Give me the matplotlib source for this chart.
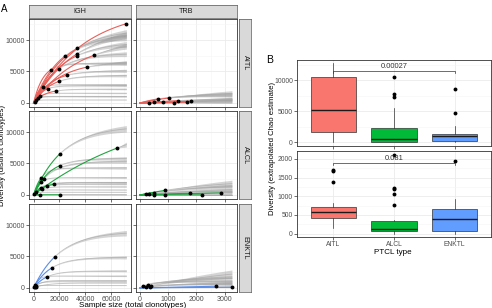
import numpy as np
import matplotlib.pyplot as plt
from matplotlib.ticker import MultipleLocator

plt.rcParams['font.family'] = ['Liberation Sans', 'DejaVu Sans']

W, H = 492, 308

# ---- A: per sample: total clonotypes sampled, distinct clonotypes seen,
# ---- and the extrapolated diversity where its curve reaches the panel edge
igh_aitl_n = [72000, 34000, 33600, 24000, 47000, 33600, 41500, 19500, 13600, 26000, 20000, 7500, 10800, 17400, 4600, 3000, 1500, 800]
igh_aitl_s = [12600, 8700, 7800, 7400, 7600, 7500, 5700, 5400, 5300, 4400, 3450, 2500, 2250, 1900, 1100, 800, 400, 150]
igh_aitl_end = [12600, 11100, 10750, 10400, 9000, 9300, 6400, 7750, 6300, 5100, 4350, 2900, 2750, 2200, 1550, 1050, 1000, 480]

igh_alcl_n = [64900, 20200, 20200, 15600, 10000, 6700, 5400, 7900, 5400, 6000, 20200, 4800, 500, 1500]
igh_alcl_s = [7460, 6500, 4650, 1700, 1380, 950, 1160, 2540, 2000, 2750, 30, 30, 100, 400]
igh_alcl_end = [8000, 10500, 5800, 1950, 1700, 1300, 2000, 5300, 2750, 4300, 30, 30, 430, 800]

igh_enktl_n = [16400, 14400, 10500, 1500, 1000, 800, 2000, 500]
igh_enktl_s = [4950, 3230, 1770, 300, 500, 200, 150, 100]
igh_enktl_end = [8700, 4850, 2700, 1200, 1900, 1000, 800, 400]

trb_aitl_n = [1040, 630, 480, 1330, 1220, 1650, 1800, 320, 800]
trb_aitl_s = [800, 640, 110, 370, 20, 110, 270, 50, 200]
trb_aitl_end = [1500, 1300, 200, 700, 20, 250, 550, 450, 600]

trb_alcl_n = [900, 900, 480, 1770, 2190, 2890, 200, 300, 490]
trb_alcl_s = [740, 20, 370, 270, 20, 320, 100, 150, 20]
trb_alcl_end = [1800, 20, 1300, 450, 20, 350, 800, 600, 20]

trb_enktl_n = [3260, 2680, 400, 280, 100, 200, 350]
trb_enktl_s = [100, 270, 370, 430, 270, 150, 200]
trb_enktl_end = [100, 320, 2200, 1500, 1000, 600, 800]

curves = {
    ('IGH', 'AITL'): (igh_aitl_n, igh_aitl_s, igh_aitl_end),
    ('IGH', 'ALCL'): (igh_alcl_n, igh_alcl_s, igh_alcl_end),
    ('IGH', 'ENKTL'): (igh_enktl_n, igh_enktl_s, igh_enktl_end),
    ('TRB', 'AITL'): (trb_aitl_n, trb_aitl_s, trb_aitl_end),
    ('TRB', 'ALCL'): (trb_alcl_n, trb_alcl_s, trb_alcl_end),
    ('TRB', 'ENKTL'): (trb_enktl_n, trb_enktl_s, trb_enktl_end),
}

# ---- B: box stats (whisker low, q1, median, q3, whisker high) and outliers
ptcl = ['AITL', 'ALCL', 'ENKTL']
igh_box = [[0, 1600, 5100, 10500, 12700], [0, 30, 500, 2300, 5500], [0, 150, 920, 1300, 2550]]
igh_out = [[], [7300, 7800, 10500], [4600, 8500]]
trb_box = [[160, 420, 580, 720, 830], [0, 60, 120, 330, 370], [0, 80, 390, 650, 920]]
trb_out = [[1390, 1680, 1710], [760, 1050, 1200, 1230, 2110], [1940]]
pvals = ['0.00027', '0.081']

genes = ['IGH', 'TRB']
x_end = {'IGH': 72000, 'TRB': 3260}
band = {'IGH': 0.05, 'TRB': 0.3}
col = {'AITL': '#F8766D', 'ALCL': '#00BA38', 'ENKTL': '#619CFF'}
line_col = {'AITL': '#E8605A', 'ALCL': '#1FA53F', 'ENKTL': '#5A8EE8'}


def rect(x0, y0, x1, y1):
    return [x0 / W, 1 - y1 / H, (x1 - x0) / W, (y1 - y0) / H]


def shape(n, s, e, xe):
    # saturation scale of s*(1-exp(-x/c)) through (n, s) and (xe, e)
    if n >= xe:
        return 0.55 * n
    if e <= s * 1.001:
        return n / 4
    t = e / s
    if t >= 0.999 * xe / n:
        return None
    lo, hi = np.log(n * 1e-3), np.log(n * 1e3)
    for _ in range(80):
        mid = (lo + hi) / 2
        c = np.exp(mid)
        r = (1 - np.exp(-xe / c)) / (1 - np.exp(-n / c))
        if r > t:
            hi = mid
        else:
            lo = mid
    return np.exp((lo + hi) / 2)


def rare(x, n, s, c):
    if s <= 0:
        return np.zeros_like(x)
    if c is None:
        return s * x / n
    return s * (1 - np.exp(-x / c)) / (1 - np.exp(-n / c))


def style(ax, small=5.0):
    ax.set_facecolor('white')
    for sp in ax.spines.values():
        sp.set_color('#333333')
        sp.set_linewidth(0.6)
    ax.grid(True, which='major', color='#EBEBEB', lw=0.6)
    ax.grid(True, which='minor', color='#F5F5F5', lw=0.4)
    ax.set_axisbelow(True)
    ax.tick_params(which='major', length=2, width=0.5, color='#333333',
                   labelsize=small, labelcolor='#4D4D4D', pad=1)
    ax.tick_params(which='minor', length=0)


def strip(box, text, rot):
    sa = fig.add_axes(rect(*box))
    sa.set_facecolor('#D9D9D9')
    sa.set_xticks([])
    sa.set_yticks([])
    for sp in sa.spines.values():
        sp.set_color('#555555')
        sp.set_linewidth(0.5)
    sa.text(0.5, 0.5, text, rotation=rot, ha='center', va='center',
            fontsize=5.2, color='#1A1A1A', transform=sa.transAxes)


fig = plt.figure(figsize=(W / 100, H / 100), dpi=100)

cols_px = {'IGH': (29, 131), 'TRB': (135.5, 236.5)}
rows_px = [(19, 107), (111, 199), (204, 292)]

for j, g in enumerate(genes):
    x0, x1 = cols_px[g]
    strip((x0, 5, x1, 18), g, 0)
    for i, t in enumerate(ptcl):
        y0, y1 = rows_px[i]
        ax = fig.add_axes(rect(x0, y0, x1, y1))
        style(ax)
        xe = x_end[g]
        ns, ss, es = curves[(g, t)]
        for n, s, e in zip(ns, ss, es):
            c = shape(n, s, e, xe)
            if n < xe:
                xx = np.linspace(n, xe, 80)
                yy = rare(xx, n, s, c)
                w = band[g] * max(e, 250) * (xx - n) / (xe - n)
                ax.fill_between(xx, yy - w, yy + w, color='#7A7A7A', alpha=0.32, lw=0)
                ax.plot(xx, yy, color='#A8A8A8', lw=0.6, alpha=0.7)
        for n, s, e in zip(ns, ss, es):
            c = shape(n, s, e, xe)
            xi = np.linspace(0, n, 60)
            ax.plot(xi, rare(xi, n, s, c), color=line_col[t], lw=0.8)
        ax.plot(ns, ss, 'o', color='black', ms=2.8, mec='none')
        ax.set_xlim(-0.05 * xe, 1.05 * xe)
        ax.set_ylim(-640, 13340)
        ax.yaxis.set_major_locator(MultipleLocator(5000))
        ax.yaxis.set_minor_locator(MultipleLocator(2500))
        if g == 'IGH':
            ax.xaxis.set_major_locator(MultipleLocator(20000))
            ax.xaxis.set_minor_locator(MultipleLocator(10000))
        else:
            ax.xaxis.set_major_locator(MultipleLocator(1000))
            ax.xaxis.set_minor_locator(MultipleLocator(500))
        if i < 2:
            ax.tick_params(labelbottom=False)
        if j == 1:
            ax.tick_params(labelleft=False)
            strip((239, y0, 251, y1), t, -90)

fig.text(3 / W, 1 - 155 / H, 'Diversity (distinct clonotypes)', rotation=90,
         ha='center', va='center', fontsize=5.6)
fig.text(133 / W, 1 - 302 / H, 'Sample size (total clonotypes)',
         ha='center', va='top', fontsize=5.8)
fig.text(1 / W, 1 - 9 / H, 'A', fontsize=7, ha='left', va='center')
fig.text(266 / W, 1 - 60 / H, 'B', fontsize=7.5, ha='left', va='center')

# ---- B
b_px = [(297, 60, 491, 146), (297, 151, 491, 237)]
b_data = [(igh_box, igh_out), (trb_box, trb_out)]
b_ylim = [(-645, 13230), (-90, 2210)]
b_major = [5000, 500]
b_bracket = [(11450, 350, 12150), (1900, 55, 2020)]

for k in range(2):
    ax = fig.add_axes(rect(*b_px[k]))
    style(ax, small=4.9)
    q, out = b_data[k]
    stats = []
    for t, qq, oo in zip(ptcl, q, out):
        stats.append({'whislo': qq[0], 'q1': qq[1], 'med': qq[2], 'q3': qq[3],
                      'whishi': qq[4], 'fliers': oo, 'label': t})
    bp = ax.bxp(stats, positions=[1, 2, 3], widths=0.75, patch_artist=True,
                showcaps=False,
                boxprops=dict(edgecolor='#333333', lw=0.5),
                whiskerprops=dict(color='#333333', lw=0.5),
                medianprops=dict(color='#1A1A1A', lw=1.0),
                flierprops=dict(marker='o', markerfacecolor='black',
                                markeredgecolor='none', markersize=2.8))
    for patch, t in zip(bp['boxes'], ptcl):
        patch.set_facecolor(col[t])
    yb, d, yt = b_bracket[k]
    ax.plot([1, 1, 3, 3], [yb - d, yb, yb, yb - d], color='#333333', lw=0.5)
    ax.text(2, yt, pvals[k], ha='center', va='center', fontsize=5.4, color='#333333')
    ax.set_xlim(0.4, 3.6)
    ax.set_ylim(*b_ylim[k])
    ax.set_xticks([1, 2, 3])
    ax.yaxis.set_major_locator(MultipleLocator(b_major[k]))
    ax.yaxis.set_minor_locator(MultipleLocator(b_major[k] / 2))
    if k == 0:
        ax.tick_params(labelbottom=False)
    else:
        ax.set_xticklabels(ptcl)

fig.text(272 / W, 1 - 148 / H, 'Diversity (extrapolated Chao estimate)', rotation=90,
         ha='center', va='center', fontsize=5.6)
fig.text(393 / W, 1 - 253 / H, 'PTCL type', ha='center', va='center', fontsize=5.8)

fig.savefig('out.png', dpi=100)
